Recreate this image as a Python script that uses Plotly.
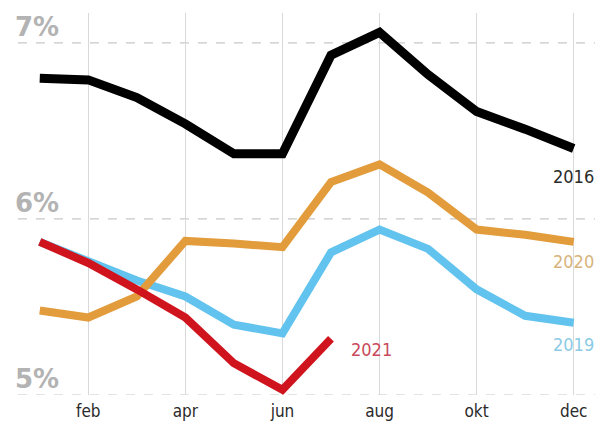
import plotly.graph_objects as go

months = list(range(1, 13))
tick_vals = [2, 4, 6, 8, 10, 12]
tick_text = ["feb", "apr", "jun", "aug", "okt", "dec"]
y_levels = [5, 6, 7]
y_labels = ["5%", "6%", "7%"]

s2016 = [6.80, 6.79, 6.69, 6.54, 6.37, 6.37, 6.93, 7.06, 6.82, 6.61, 6.51, 6.40]
s2020 = [5.48, 5.44, 5.56, 5.875, 5.86, 5.84, 6.21, 6.31, 6.15, 5.94, 5.91, 5.87]
s2019 = [5.87, 5.76, 5.65, 5.56, 5.40, 5.35, 5.81, 5.94, 5.83, 5.60, 5.45, 5.41]
s2021 = [5.87, 5.75, 5.60, 5.44, 5.18, 5.03, 5.32]

FONT = "DejaVu Sans Condensed, Liberation Sans Narrow, Roboto, sans-serif"

fig = go.Figure()
series = [
    ("2019", s2019, "#62c3ee", 8),
    ("2020", s2020, "#e39c3c", 8),
    ("2016", s2016, "#000000", 9),
    ("2021", s2021, "#d0141e", 8),
]
for name, vals, col, w in series:
    fig.add_trace(go.Scatter(x=months[:len(vals)], y=vals, mode="lines", name=name,
                             line=dict(color=col, width=w), showlegend=False,
                             hoverinfo="skip"))

for lv in y_levels:
    fig.add_shape(type="line", xref="x", yref="y", x0=0.55, x1=12.45, y0=lv, y1=lv,
                  line=dict(color="#c8c8c8", width=1.2, dash="dash"), layer="below")

for lv, lab in zip(y_levels, y_labels):
    fig.add_annotation(x=0.022, xref="paper", y=lv, yref="y", text=f"<b>{lab}</b>",
                       showarrow=False, xanchor="left", yanchor="bottom", yshift=-1,
                       font=dict(family="DejaVu Sans, sans-serif", size=26, color="#b3b3b3"))

labels = [
    ("2016", 12.0, 6.24, "#2b2b2b"),
    ("2020", 12.0, 5.76, "#d7b47c"),
    ("2019", 12.0, 5.285, "#8ccbe6"),
    ("2021", 7.84, 5.26, "#c84a5c"),
]
for txt, x, y, col in labels:
    fig.add_annotation(x=x, y=y, xref="x", yref="y", text=txt, showarrow=False,
                       xanchor="center", yanchor="middle",
                       font=dict(family=FONT, size=18, color=col))

fig.update_layout(
    width=595, height=422,
    margin=dict(l=0, r=0, t=13, b=27),
    paper_bgcolor="white", plot_bgcolor="white",
    xaxis=dict(range=[0.181, 12.439], tickvals=tick_vals, ticktext=tick_text,
               showgrid=True, gridcolor="#d9d9d9", gridwidth=1.2, zeroline=False,
               showline=False, ticks="", ticklabelstandoff=4,
               tickfont=dict(family=FONT, size=17, color="#2a2a2a"), fixedrange=True),
    yaxis=dict(range=[5.0, 7.17], showgrid=False, zeroline=False, showticklabels=False,
               showline=False, ticks="", fixedrange=True),
)

fig.write_html("out.html", config={"displayModeBar": False},
               post_script="document.body.style.margin='0';document.body.style.padding='0';")
